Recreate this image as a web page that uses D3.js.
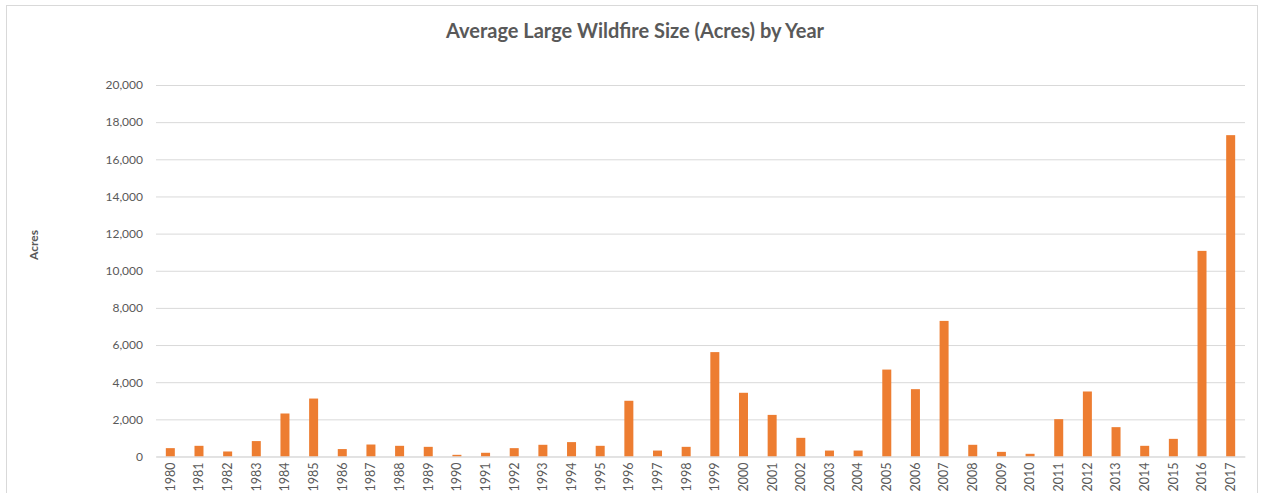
<!DOCTYPE html>
<html><head><meta charset="utf-8">
<script src="https://cdn.jsdelivr.net/npm/d3@7"></script>
<style>body{margin:0;background:#fff;} svg{display:block;}</style>
</head><body>
<script>
const years = ["1980","1981","1982","1983","1984","1985","1986","1987","1988","1989","1990","1991","1992","1993","1994","1995","1996","1997","1998","1999","2000","2001","2002","2003","2004","2005","2006","2007","2008","2009","2010","2011","2012","2013","2014","2015","2016","2017"];
const acres = [450,575,270,830,2315,3120,400,645,575,520,90,200,450,630,775,575,3000,320,520,5620,3430,2240,1005,320,320,4680,3625,7300,630,250,145,2010,3500,1580,575,950,11070,17300];
const yTicks = [0,2000,4000,6000,8000,10000,12000,14000,16000,18000,20000];
const title = "Average Large Wildfire Size (Acres) by Year";
const yTitle = "Acres";

const W = 1263, H = 493;
const svg = d3.select("body").append("svg").attr("width", W).attr("height", H);
svg.append("rect").attr("x",6.5).attr("y",5.5).attr("width",1251).attr("height",520)
  .attr("fill","#fff").attr("stroke","#d9d9d9");

const mLeft = 156, mRight = 1245, mTop = 85, mBottom = 456.5;
const x = d3.scaleBand().domain(years).range([mLeft, mRight]).paddingInner(0.686).paddingOuter(0.343);
const y = d3.scaleLinear().domain([0, 20000]).range([mBottom, mTop]);

const font = "Lato, 'Open Sans', sans-serif";
const gy = svg.append("g").attr("transform", `translate(${mLeft},0)`)
  .call(d3.axisLeft(y).tickValues(yTicks).tickSize(-(mRight-mLeft)).tickPadding(13).tickFormat(d3.format(",")));
gy.select(".domain").remove();
gy.selectAll(".tick line").attr("stroke","#d9d9d9");
gy.selectAll(".tick text").attr("fill","#595959").style("font-family", font).style("font-size","12px");

svg.append("g").selectAll("rect").data(years).join("rect")
  .attr("x", d => x(d)).attr("width", x.bandwidth())
  .attr("y", (d,i) => y(acres[i])).attr("height", (d,i) => y(0) - y(acres[i]))
  .attr("fill", "#ED7D31");

const gx = svg.append("g").attr("transform", `translate(0,${mBottom})`)
  .call(d3.axisBottom(x).tickSize(0).tickPadding(0));
gx.select(".domain").attr("stroke","#d9d9d9");
gx.selectAll(".tick text").attr("fill","#595959").style("font-family", font).style("font-size","12.5px")
  .attr("transform","rotate(-90)").attr("text-anchor","end").attr("dx","-6px").attr("dy","0.35em").attr("y",0).attr("x",0);

svg.append("text").attr("x", 635).attr("y", 38).attr("text-anchor","middle")
  .attr("fill","#595959").style("font-family", font).style("font-weight","bold").style("font-size","20px")
  .text(title);

svg.append("text").attr("transform","translate(38,245) rotate(-90)").attr("text-anchor","middle")
  .attr("fill","#595959").style("font-family", font).style("font-weight","bold").style("font-size","12px")
  .text(yTitle);
</script>
</body></html>
